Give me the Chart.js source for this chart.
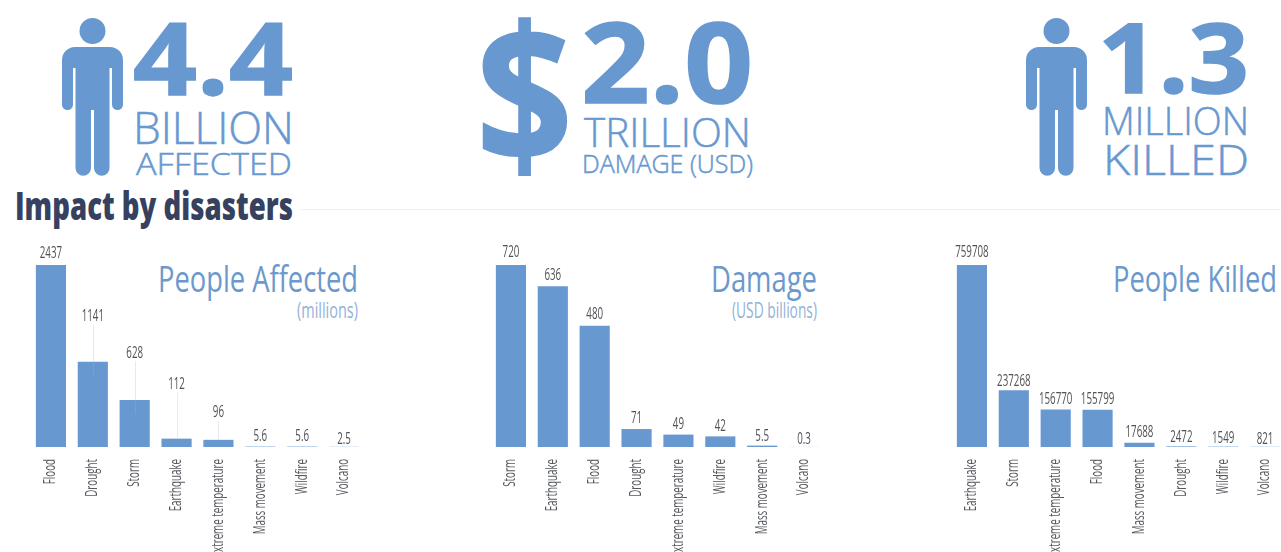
<!DOCTYPE html>
<html>
<head>
<meta charset="utf-8">
<title>Impact by disasters</title>
<script src="https://cdn.jsdelivr.net/npm/chart.js@4"></script>
<style>
  html, body { margin: 0; background: #fff; }
  #page { position: relative; width: 1281px; height: 552px; overflow: hidden; }
  #page svg { position: absolute; left: 0; top: 0; }
  #page canvas { position: absolute; top: 240px; }
  text { font-family: "Open Sans", sans-serif; }
  .big { font-weight: 700; fill: #6898d0; stroke: #6898d0; stroke-width: 1.5; }
  .unit { font-weight: 300; fill: #6898d0; stroke: #6898d0; stroke-width: 0.5; }
  .heading { font-weight: 800; font-size: 38px; fill: #36415f; }
  .panel { font-size: 37px; fill: #6b98cd; }
  .panel-sub { font-size: 21px; fill: #93b1d8; }
</style>
</head>
<body>
<div id="page">
  <svg width="1281" height="552">
    <defs>
      <g id="person">
        <circle cx="92.5" cy="31" r="13"/>
        <path d="M62 60a13 13 0 0 1 13-13h35a13 13 0 0 1 13 13v44.5a5.5 5.5 0 0 1-11 0V68h-2.5v100a7.75 7.75 0 0 1-15.5 0V110h-3v58a7.75 7.75 0 0 1-15.5 0V68H73v36.5a5.5 5.5 0 0 1-11 0z"/>
      </g>
    </defs>

    <!-- headline figures -->
    <use href="#person" fill="#6898d0"/>
    <text class="big" x="133" y="95" font-size="101" textLength="160" lengthAdjust="spacingAndGlyphs">4.4</text>
    <text class="unit" x="133" y="143.5" font-size="45" textLength="161" lengthAdjust="spacingAndGlyphs">BILLION</text>
    <text class="unit" x="136" y="175" font-size="32" textLength="156" lengthAdjust="spacingAndGlyphs">AFFECTED</text>

    <text class="big" x="476" y="164" font-size="192" textLength="97" lengthAdjust="spacingAndGlyphs">$</text>
    <text class="big" x="581" y="103" font-size="112" textLength="172" lengthAdjust="spacingAndGlyphs">2.0</text>
    <text class="unit" x="584" y="147" font-size="41" textLength="167" lengthAdjust="spacingAndGlyphs">TRILLION</text>
    <text class="unit" x="582" y="173" font-size="25" textLength="171" lengthAdjust="spacingAndGlyphs">DAMAGE (USD)</text>

    <use href="#person" x="964" fill="#6898d0"/>
    <text class="big" x="1098" y="93" font-size="97" textLength="151" lengthAdjust="spacingAndGlyphs">1.3</text>
    <text class="unit" x="1102" y="135" font-size="38" textLength="147" lengthAdjust="spacingAndGlyphs">MILLION</text>
    <text class="unit" x="1103" y="175" font-size="43" textLength="146" lengthAdjust="spacingAndGlyphs">KILLED</text>

    <text class="heading" x="15" y="220" textLength="278" lengthAdjust="spacingAndGlyphs">Impact by disasters</text>
    <line x1="300" y1="209.5" x2="1281" y2="209.5" stroke="#f0f1f2"/>

    <!-- panel titles -->
    <text class="panel" x="158" y="292" textLength="200" lengthAdjust="spacingAndGlyphs">People Affected</text>
    <text class="panel-sub" x="297" y="318" textLength="61" lengthAdjust="spacingAndGlyphs">(millions)</text>
    <text class="panel" x="711" y="292" textLength="106" lengthAdjust="spacingAndGlyphs">Damage</text>
    <text class="panel-sub" x="732" y="318" textLength="85" lengthAdjust="spacingAndGlyphs">(USD billions)</text>
    <text class="panel" x="1113" y="292" textLength="164" lengthAdjust="spacingAndGlyphs">People Killed</text>
  </svg>

  <canvas id="affectedChart" style="left:30px" width="335" height="312"></canvas>
  <canvas id="damageChart" style="left:490px" width="335" height="312"></canvas>
  <canvas id="killedChart" style="left:951px" width="335" height="312"></canvas>
</div>

<script>
// Data
const affectedLabels = ['Flood', 'Drought', 'Storm', 'Earthquake', 'Extreme temperature', 'Mass movement', 'Wildfire', 'Volcano'];
const affectedValues = [2437, 1141, 628, 112, 96, 5.6, 5.6, 2.5];

const damageLabels = ['Storm', 'Earthquake', 'Flood', 'Drought', 'Extreme temperature', 'Wildfire', 'Mass movement', 'Volcano'];
const damageValues = [720, 636, 480, 71, 49, 42, 5.5, 0.3];

const killedLabels = ['Earthquake', 'Storm', 'Extreme temperature', 'Flood', 'Mass movement', 'Drought', 'Wildfire', 'Volcano'];
const killedValues = [759708, 237268, 156770, 155799, 17688, 2472, 1549, 821];

// How far each value label sits above its bar, in px
const affectedLift = [11, 45, 47, 54, 27, 10, 10, 7];
const damageLift = [12, 11, 11, 10, 10, 10, 9, 7];
const killedLift = [12, 9, 10, 10, 10, 9, 8, 7];

// There is no condensed face installed, so small text gets squeezed sideways
const SMALL_FONT = '15.5px "Open Sans", sans-serif';
const SQUEEZE = 0.63;

// Draw text squeezed along its own direction
function squeezedText(ctx, text, x, y, angle) {
  ctx.save();
  ctx.translate(x, y);
  ctx.rotate(angle);
  ctx.scale(SQUEEZE, 1);
  ctx.fillText(text, 0, 0);
  ctx.restore();
}

// Value labels, with a faint leader line when the label floats high above the bar
const valueLabels = {
  id: 'valueLabels',
  afterDatasetsDraw(chart, args, opts) {
    const { ctx } = chart;
    const bars = chart.getDatasetMeta(0).data;
    const values = chart.data.datasets[0].data;

    ctx.save();
    ctx.font = SMALL_FONT;
    ctx.textAlign = 'center';
    ctx.textBaseline = 'middle';

    bars.forEach((bar, i) => {
      const y = bar.y - opts.lift[i];
      if (opts.lift[i] > 15) {
        const x = Math.round(bar.x) + 0.5;
        ctx.strokeStyle = 'rgba(215, 222, 232, 0.6)';
        ctx.beginPath();
        ctx.moveTo(x, y + 8);
        ctx.lineTo(x, bar.y);
        ctx.stroke();
        // the line carries on faintly into the taller bars
        if (bar.base - bar.y > 20) {
          ctx.strokeStyle = 'rgba(215, 222, 232, 0.12)';
          ctx.beginPath();
          ctx.moveTo(x, bar.y);
          ctx.lineTo(x, bar.y + 14);
          ctx.stroke();
        }
      }
      ctx.fillStyle = '#4f5257';
      squeezedText(ctx, String(values[i]), bar.x, y, 0);
    });
    ctx.restore();
  }
};

// Category names, rotated to read upwards below the bars
const categoryNames = {
  id: 'categoryNames',
  afterDraw(chart) {
    const { ctx, scales } = chart;

    ctx.save();
    ctx.font = SMALL_FONT;
    ctx.textAlign = 'right';
    ctx.textBaseline = 'middle';
    ctx.fillStyle = '#54575c';
    chart.data.labels.forEach((name, i) => {
      squeezedText(ctx, name, scales.x.getPixelForValue(i), scales.x.top + 12, -Math.PI / 2);
    });
    ctx.restore();
  }
};

function drawPanel(id, labels, values, lift) {
  return new Chart(document.getElementById(id), {
    type: 'bar',
    data: {
      labels: labels,
      datasets: [{
        data: values,
        backgroundColor: '#6898d0',
        barPercentage: 0.72,
        categoryPercentage: 1
      }]
    },
    options: {
      responsive: false,
      animation: false,
      layout: { padding: { top: 25 } },
      plugins: {
        legend: { display: false },
        tooltip: { enabled: false },
        valueLabels: { lift: lift }
      },
      scales: {
        x: {
          grid: { display: false },
          border: { display: false },
          ticks: { display: false },
          afterFit: scale => { scale.height = 105; }
        },
        y: {
          display: false,
          min: 0,
          max: Math.max(...values)
        }
      }
    },
    plugins: [valueLabels, categoryNames]
  });
}

drawPanel('affectedChart', affectedLabels, affectedValues, affectedLift);
drawPanel('damageChart', damageLabels, damageValues, damageLift);
drawPanel('killedChart', killedLabels, killedValues, killedLift);
</script>
</body>
</html>
